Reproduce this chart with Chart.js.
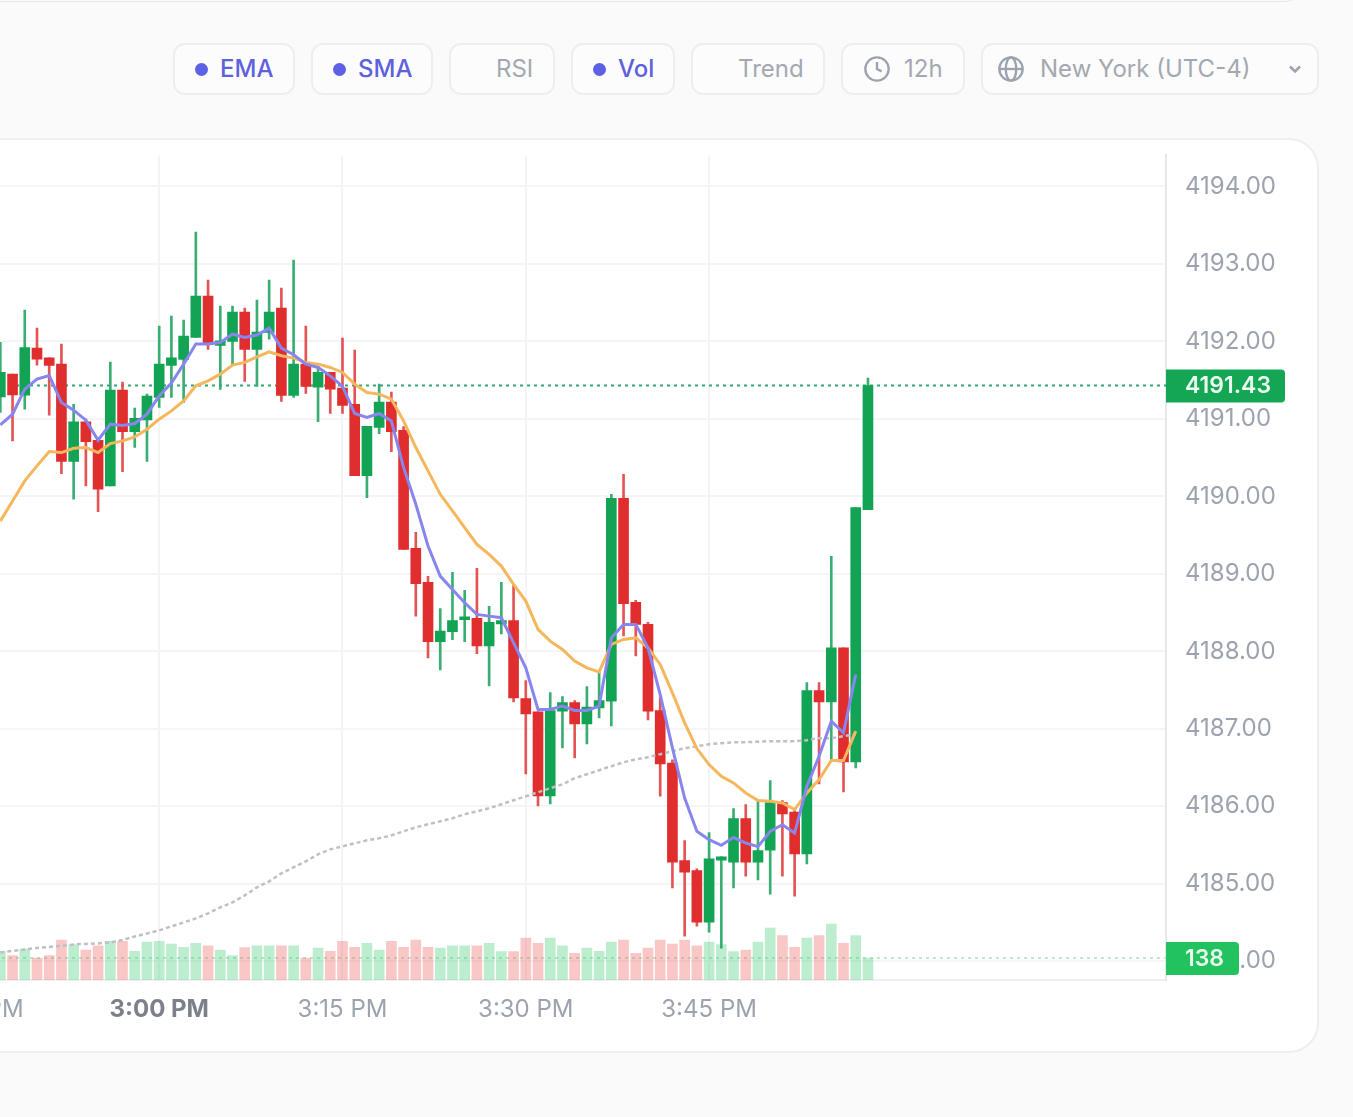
<!DOCTYPE html>
<html>
<head>
<meta charset="utf-8">
<title>Candles</title>
<script src="https://cdn.jsdelivr.net/npm/chart.js@4"></script>
<style>
  html, body { margin: 0; padding: 0; width: 1353px; height: 1117px; overflow: hidden; background: #fafafa; font-family: Inter, sans-serif; }
  .top-strip { position: absolute; left: -40px; top: -40px; width: 1346px; height: 40px; border: 1px solid #e8e8e8; border-radius: 0 0 24px 0; box-sizing: content-box; }
  .pill { position: absolute; top: 43px; height: 48px; border: 2px solid #eeeeee; border-radius: 12px; background: #fcfcfc; color: #a3a8b1; font-size: 24px; line-height: 48px; box-sizing: content-box; white-space: nowrap; }
  .pill span { position: absolute; top: 0; }
  .pill.on { color: #5e60de; font-weight: 500; }
  .pill i { position: absolute; top: 18px; width: 13px; height: 13px; border-radius: 50%; background: #5e60e6; }
  .pill svg { position: absolute; fill: none; stroke: #9ca3af; stroke-width: 2; }
  .card { position: absolute; left: -60px; top: 138px; width: 1375px; height: 911px; background: #fff; border: 2px solid #eeeeee; border-radius: 30px; }
  #chart { position: absolute; left: -100px; top: 122px; }
</style>
</head>
<body>
<div class="top-strip"></div>
<div class="pill on" style="left:173px;width:118px"><i style="left:20px"></i><span style="left:45px">EMA</span></div>
<div class="pill on" style="left:311px;width:118px"><i style="left:20px"></i><span style="left:45px">SMA</span></div>
<div class="pill" style="left:449px;width:102px"><span style="left:45px">RSI</span></div>
<div class="pill on" style="left:571px;width:100px"><i style="left:20px"></i><span style="left:45px">Vol</span></div>
<div class="pill" style="left:691px;width:130px"><span style="left:45px">Trend</span></div>
<div class="pill" style="left:841px;width:120px">
  <svg style="left:20px;top:10px" width="28" height="28" viewBox="0 0 24 24"><circle cx="12" cy="12" r="10"/><path d="M12 6v6l4 2"/></svg>
  <span style="left:61px">12h</span>
</div>
<div class="pill" style="left:981px;width:334px">
  <svg style="left:14px;top:10px" width="28" height="28" viewBox="0 0 24 24"><circle cx="12" cy="12" r="10"/><ellipse cx="12" cy="12" rx="4.5" ry="10"/><path d="M2 12h20"/></svg>
  <span style="left:57px">New York (UTC-4)</span>
  <svg style="left:302px;top:14px" width="20" height="20" viewBox="0 0 24 24"><path d="M6 9l6 6 6-6" stroke-width="3"/></svg>
</div>
<div class="card"></div>
<canvas id="chart" width="1410" height="918"></canvas>

<script>
// One candle per minute, 2:47 PM to 3:58 PM, minutes counted from midnight
const firstMinute = 887;

const opens = [
  4191.284, 4191.577, 4191.306, 4191.913, 4191.788, 4191.706, 4190.449, 4190.961, 4190.724, 4190.134, 4191.370, 4190.836, 4190.987,
  4191.275, 4191.689, 4191.766, 4192.051, 4192.585, 4191.947, 4191.999, 4192.378, 4191.896, 4192.115, 4192.430, 4191.301, 4191.706, 4191.409, 4191.599,
  4191.396, 4191.189, 4190.268, 4190.888, 4191.215, 4190.853, 4189.329, 4188.889, 4188.123, 4188.252, 4188.407, 4188.424, 4188.071, 4188.355, 4188.398,
  4187.391, 4187.218, 4186.133, 4187.227, 4187.339, 4187.063, 4187.270, 4187.356, 4189.975, 4188.631, 4188.347, 4187.236, 4186.559, 4185.298, 4185.169,
  4184.505, 4185.306, 4185.280, 4185.840, 4185.280, 4185.435, 4186.047, 4185.926, 4185.384, 4187.494, 4187.348, 4188.046, 4186.572, 4189.828,
];
const closes = [
  4191.599, 4191.310, 4191.921, 4191.771, 4191.689, 4190.449, 4190.961, 4190.707, 4190.091, 4191.370, 4190.836, 4191.008, 4191.293,
  4191.706, 4191.788, 4192.068, 4192.585, 4191.965, 4192.008, 4192.378, 4191.896, 4192.120, 4192.378, 4191.301, 4191.706, 4191.418, 4191.599, 4191.383,
  4191.172, 4190.268, 4190.905, 4191.215, 4190.836, 4189.316, 4188.872, 4188.123, 4188.261, 4188.398, 4188.433, 4188.071, 4188.373, 4188.398, 4187.399,
  4187.193, 4186.133, 4187.236, 4187.339, 4187.063, 4187.279, 4187.365, 4189.975, 4188.614, 4188.347, 4187.227, 4186.547, 4185.280, 4185.151, 4184.505,
  4185.323, 4185.349, 4185.840, 4185.280, 4185.427, 4186.047, 4185.901, 4185.384, 4187.494, 4187.348, 4188.046, 4186.572, 4189.854, 4191.43,
];
const highs = [
  4191.986, 4191.577, 4192.404, 4192.171, 4191.788, 4191.965, 4191.189, 4190.996, 4190.759, 4191.732, 4191.474, 4191.138, 4191.319,
  4192.197, 4192.326, 4192.275, 4193.412, 4192.791, 4192.456, 4192.456, 4192.430, 4192.533, 4192.791, 4192.688, 4193.050, 4192.197, 4191.680, 4191.600,
  4192.042, 4191.887, 4190.905, 4191.448, 4191.344, 4190.900, 4189.535, 4188.967, 4188.553, 4189.019, 4188.786, 4189.070, 4188.579, 4188.889, 4188.864,
  4187.623, 4187.218, 4187.468, 4187.416, 4187.365, 4187.546, 4187.727, 4190.026, 4190.285, 4188.657, 4188.373, 4187.408, 4186.598, 4185.556, 4185.194,
  4185.659, 4185.349, 4185.969, 4186.021, 4186.064, 4186.331, 4186.073, 4185.952, 4187.597, 4187.597, 4189.226, 4188.046, 4189.854, 4191.525,
];
const lows = [
  4191.082, 4190.716, 4191.125, 4191.693, 4191.047, 4190.294, 4189.962, 4190.134, 4189.803, 4190.134, 4190.319, 4190.630, 4190.449,
  4191.146, 4191.275, 4191.211, 4192.051, 4191.896, 4191.379, 4191.693, 4191.482, 4191.418, 4192.029, 4191.224, 4191.275, 4191.327, 4190.965, 4191.069,
  4191.069, 4190.268, 4189.984, 4190.810, 4190.578, 4189.316, 4188.454, 4187.916, 4187.761, 4188.149, 4188.123, 4187.968, 4187.554, 4188.226, 4187.348,
  4186.417, 4186.004, 4186.030, 4186.753, 4186.624, 4186.805, 4187.141, 4187.038, 4188.200, 4187.942, 4187.115, 4186.129, 4184.945, 4184.324, 4184.454,
  4184.376, 4184.170, 4184.945, 4185.099, 4185.048, 4184.867, 4185.099, 4184.841, 4185.255, 4186.288, 4186.590, 4186.185, 4186.495, 4189.828,
];
const volumes = [
  180, 153, 194, 138, 153, 251, 222, 188, 215, 242, 242, 180, 238,
  242, 226, 205, 230, 215, 188, 153, 203, 215, 215, 215, 215, 138, 201, 180,
  242, 205, 230, 188, 242, 205, 251, 205, 201, 215, 215, 215, 230, 178, 178,
  263, 230, 263, 215, 167, 201, 180, 238, 251, 167, 201, 251, 226, 251, 215,
  238, 222, 178, 188, 238, 326, 278, 205, 263, 278, 351, 230, 278, 138,
];

// Moving averages stop one candle short of the last bar
const smaValues = [
  4190.922, 4191.060, 4191.383, 4191.512, 4191.560, 4191.211, 4191.112, 4190.983, 4190.724, 4190.931, 4190.914, 4190.940, 4191.060,
  4191.297, 4191.461, 4191.706, 4191.965, 4191.965, 4191.986, 4192.094, 4192.051, 4192.081, 4192.171, 4191.913, 4191.827, 4191.706, 4191.663, 4191.555,
  4191.418, 4191.069, 4191.017, 4191.069, 4190.974, 4190.371, 4189.897, 4189.359, 4188.971, 4188.799, 4188.627, 4188.476, 4188.454, 4188.433, 4188.110,
  4187.787, 4187.249, 4187.249, 4187.292, 4187.236, 4187.236, 4187.292, 4188.174, 4188.347, 4188.347, 4188.045, 4187.442, 4186.753, 4186.107, 4185.677,
  4185.569, 4185.496, 4185.599, 4185.526, 4185.479, 4185.677, 4185.763, 4185.655, 4186.258, 4186.646, 4187.098, 4186.947, 4187.701,
];
const emaValues = [
  4189.680, 4189.940, 4190.199, 4190.393, 4190.578, 4190.565, 4190.621, 4190.630, 4190.565, 4190.681, 4190.716, 4190.767, 4190.866,
  4190.996, 4191.103, 4191.232, 4191.426, 4191.491, 4191.577, 4191.693, 4191.728, 4191.801, 4191.866, 4191.814, 4191.784, 4191.728, 4191.706, 4191.663,
  4191.599, 4191.448, 4191.340, 4191.319, 4191.254, 4190.974, 4190.630, 4190.328, 4190.026, 4189.811, 4189.596, 4189.380, 4189.251, 4189.100, 4188.864,
  4188.648, 4188.282, 4188.131, 4188.024, 4187.873, 4187.787, 4187.735, 4188.088, 4188.153, 4188.174, 4188.045, 4187.830, 4187.464, 4187.076, 4186.745,
  4186.538, 4186.387, 4186.301, 4186.172, 4186.073, 4186.064, 4186.043, 4185.957, 4186.172, 4186.344, 4186.590, 4186.590, 4186.969,
];
const longAvgValues = [
  4184.114, 4184.133, 4184.152, 4184.172, 4184.185, 4184.198, 4184.217, 4184.224, 4184.230, 4184.243, 4184.275, 4184.320, 4184.359,
  4184.398, 4184.450, 4184.501, 4184.553, 4184.618, 4184.695, 4184.760, 4184.850, 4184.953, 4185.031, 4185.134, 4185.212, 4185.289, 4185.380, 4185.444,
  4185.483, 4185.522, 4185.561, 4185.587, 4185.625, 4185.677, 4185.729, 4185.767, 4185.806, 4185.845, 4185.897, 4185.935, 4185.974, 4186.026, 4186.078,
  4186.129, 4186.181, 4186.233, 4186.284, 4186.362, 4186.413, 4186.465, 4186.517, 4186.568, 4186.607, 4186.633, 4186.672, 4186.711, 4186.749, 4186.775,
  4186.801, 4186.814, 4186.827, 4186.827, 4186.833, 4186.840, 4186.840, 4186.840, 4186.853, 4186.879, 4186.879, 4186.904, 4186.930,
];

const minutes = opens.map((_, i) => firstMinute + i);
const lastClose = closes[closes.length - 1];
const lastVolume = volumes[volumes.length - 1];

const GREEN = '#12a354';
const RED = '#e02d2d';
const isUp = (i) => closes[i] >= opens[i];
const isThreePm = (c) => Boolean(c.tick) && c.tick.value === 900;

const toPoints = (values) => values.map((y, i) => ({ x: minutes[i], y }));

const formatMinute = (value) => {
  const hour = Math.floor(value / 60) % 12 || 12;
  const min = String(value % 60).padStart(2, '0');
  return `${hour}:${min} PM`;
};

// Dashed last-value lines go under the candles, the tags on top of the axis text
const priceTags = {
  id: 'priceTags',
  beforeDatasetsDraw(chart) {
    const { ctx, chartArea, scales } = chart;
    ctx.save();
    ctx.lineWidth = 2;
    ctx.setLineDash([3, 4]);
    ctx.strokeStyle = '#2fa873';
    let y = scales.y.getPixelForValue(lastClose);
    ctx.beginPath();
    ctx.moveTo(chartArea.left, y);
    ctx.lineTo(chartArea.right, y);
    ctx.stroke();
    ctx.strokeStyle = '#bfead0';
    y = scales.volume.getPixelForValue(lastVolume);
    ctx.beginPath();
    ctx.moveTo(chartArea.left, y);
    ctx.lineTo(chartArea.right, y);
    ctx.stroke();
    ctx.restore();
  },
  afterDraw(chart) {
    const { ctx, chartArea, scales } = chart;
    const drawTag = (y, text, width, color) => {
      ctx.fillStyle = color;
      ctx.beginPath();
      ctx.roundRect(chartArea.right, y - 16, width, 33, [0, 4, 4, 0]);
      ctx.fill();
      ctx.fillStyle = '#e9fbef';
      ctx.font = '600 23px Inter';
      ctx.textAlign = 'left';
      ctx.textBaseline = 'middle';
      ctx.fillText(text, chartArea.right + 19, y + 1);
    };
    ctx.save();
    drawTag(scales.y.getPixelForValue(lastClose), lastClose.toFixed(2), 119, '#14a555');
    drawTag(scales.volume.getPixelForValue(lastVolume), String(lastVolume), 73, '#22c35e');
    ctx.restore();
  },
};

new Chart(document.getElementById('chart').getContext('2d'), {
  data: {
    datasets: [
      {
        type: 'line',
        label: 'EMA',
        data: toPoints(emaValues),
        borderColor: '#f6b65c',
        borderWidth: 3,
        pointRadius: 0,
        order: 1,
      },
      {
        type: 'line',
        label: 'SMA',
        data: toPoints(smaValues),
        borderColor: '#8886ee',
        borderWidth: 3,
        pointRadius: 0,
        order: 0,
      },
      {
        type: 'line',
        label: 'Long average',
        data: toPoints(longAvgValues),
        borderColor: '#bfc0c2',
        borderWidth: 2.5,
        borderDash: [4, 3],
        pointRadius: 0,
        order: 2,
      },
      {
        type: 'bar',
        label: 'Body',
        data: minutes.map((x, i) => ({ x, y: [opens[i], closes[i]] })),
        backgroundColor: minutes.map((_, i) => (isUp(i) ? GREEN : RED)),
        barThickness: 10,
        minBarLength: 3,
        grouped: false,
        order: 3,
      },
      {
        type: 'bar',
        label: 'Wick',
        data: minutes.map((x, i) => ({ x, y: [lows[i], highs[i]] })),
        backgroundColor: minutes.map((_, i) => (isUp(i) ? '#3aae72' : '#e55454')),
        barThickness: 2,
        grouped: false,
        order: 4,
      },
      {
        type: 'bar',
        label: 'Volume',
        yAxisID: 'volume',
        data: minutes.map((x, i) => ({ x, y: volumes[i] })),
        backgroundColor: minutes.map((_, i) => (isUp(i) ? 'rgba(34,197,94,0.3)' : 'rgba(239,68,68,0.3)')),
        barThickness: 10,
        grouped: false,
        order: 5,
      },
    ],
  },
  options: {
    responsive: false,
    animation: false,
    devicePixelRatio: 1,
    layout: { padding: { top: 30, left: 60, right: 0, bottom: 0 } },
    plugins: { legend: { display: false }, tooltip: { enabled: false } },
    scales: {
      x: {
        type: 'linear',
        offset: false,
        min: 883.7,
        max: 982.39,
        afterBuildTicks: (scale) => {
          // Only label the stretch that has candles
          scale.ticks = scale.ticks.filter((t) => t.value <= minutes[minutes.length - 1]);
        },
        afterFit: (scale) => { scale.height = 60; },
        grid: { offset: false, color: '#f3f4f6', lineWidth: 2, drawTicks: false },
        border: { color: '#eeeff1', width: 2 },
        ticks: {
          stepSize: 15,
          includeBounds: false,
          autoSkip: false,
          maxRotation: 0,
          minRotation: 0,
          padding: 15,
          color: (c) => (isThreePm(c) ? '#7b808a' : '#9ca3af'),
          font: (c) => ({ family: 'Inter', size: 24, weight: isThreePm(c) ? '700' : '400' }),
          callback: (value) => formatMinute(value),
        },
      },
      y: {
        position: 'right',
        min: 4183.758,
        max: 4194.4,
        afterFit: (scale) => { scale.width = 144; },
        grid: { color: '#f4f5f6', lineWidth: 2, drawTicks: false },
        border: { color: '#e7e8ea', width: 2 },
        ticks: {
          stepSize: 1,
          includeBounds: false,
          padding: 19,
          color: '#9ca3af',
          font: { family: 'Inter', size: 24 },
          callback: (value) => value.toFixed(2),
        },
      },
      volume: {
        display: false,
        min: 0,
        max: 5175,
      },
    },
  },
  plugins: [priceTags],
});
</script>
</body>
</html>
